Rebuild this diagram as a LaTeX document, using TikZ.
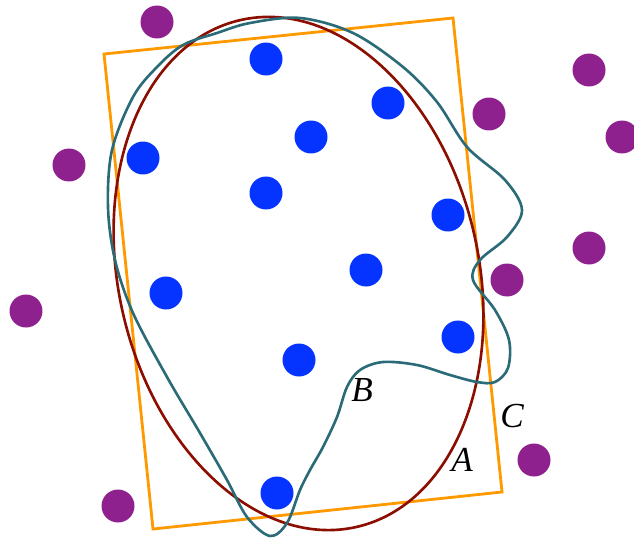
\documentclass[tikz,border=0pt]{standalone}
\usepackage{fontspec}
\setmainfont{Liberation Serif}
\definecolor{dotblue}{RGB}{5,51,255}
\definecolor{dotpurple}{RGB}{143,33,143}
\definecolor{setred}{RGB}{139,14,0}
\definecolor{setteal}{RGB}{42,107,119}
\definecolor{setorange}{RGB}{255,153,0}
\begin{document}
\begin{tikzpicture}[x=0.02cm,y=-0.02cm,
    inpt/.style={circle,fill=dotblue,inner sep=0pt,minimum size=0.66cm},
    outpt/.style={circle,fill=dotpurple,inner sep=0pt,minimum size=0.66cm},
    lbl/.style={font=\fontsize{20}{20}\selectfont\itshape,text=black,inner sep=0pt}]
    \useasboundingbox (0,0) rectangle (634,537);
    % points
    \foreach \p [count=\i] in {(266,59),(388,103),(311,137),(143,158),(266,193),(448,215),
                               (366,270),(166,293),(458,337),(299,360),(277,493)}
        \node[inpt] (b\i) at \p {};
    \foreach \p [count=\i] in {(157,22),(69,165),(26,311),(118,506),(489,114),(589,70),
                               (622,137),(589,248),(507,280),(534,460)}
        \node[outpt] (p\i) at \p {};
    % sets
    \draw[setorange,line width=1.6pt,line join=miter] (104,54) -- (453,18) -- (502,492) -- (153,529) -- cycle;
    \draw[setred,line width=1.5pt,rotate around={13:(298.5,273.5)}]
        (298.5,273.5) ellipse [x radius=180, y radius=260];
    \draw[setteal,line width=1.5pt] plot[smooth cycle,tension=0.55] coordinates {
        (300,18) (353,33) (403,67) (437,102) (467,147) (505,180) (522,210) (507,237)
        (480,260) (473,280) (495,310) (509,340) (508,368) (495,382) (477,382) (450,375)
        (417,365) (383,362) (360,370) (347,387) (337,417) (323,447) (310,470) (300,490)
        (287,523) (270,536) (247,517) (227,480) (200,433) (167,377) (133,313) (115,260)
        (108,207) (112,150) (133,97) (157,67) (183,45) (217,33) (250,23)};
    % labels
    \node[lbl] (la) at (462,460) {A};
    \node[lbl] (lb) at (362,390) {B};
    \node[lbl] (lc) at (512,416) {C};
\end{tikzpicture}
\end{document}
